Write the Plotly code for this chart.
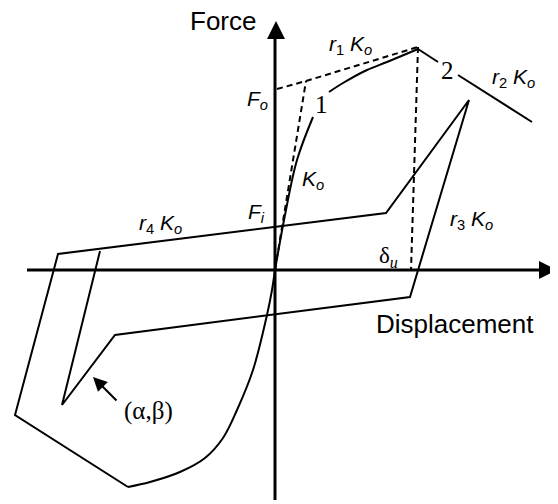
import plotly.graph_objects as go

# diagram coordinates (image pixel space, y grows downwards)
axis_force_x = [275, 275]
axis_force_y = [500, 34]
axis_disp_x = [27, 545]
axis_disp_y = [270, 270]

dash_bilinear_x = [277, 306, 418]
dash_bilinear_y = [89, 81, 47]
dash_ko_x = [275, 306]
dash_ko_y = [270, 81]
dash_du_x = [418, 411]
dash_du_y = [47, 270]

bb_start_x = [275, 285, 297, 313]
bb_start_y = [270, 215, 160, 117]
bb_curve_x = [329, 343, 367, 387, 418]
bb_curve_y = [92, 83, 70, 62, 49]
bb_peak_x = [418, 438]
bb_peak_y = [49, 62]
bb_soft_x = [458, 532]
bb_soft_y = [75, 122]

neg_curve_x = [275, 272, 267, 253, 237, 223, 205, 180, 150, 128]
neg_curve_y = [270, 290, 315, 370, 410, 438, 458, 472, 482, 487]

loop_x = [128, 15, 58, 386, 469, 410, 115, 62, 100]
loop_y = [487, 415, 254, 213, 100, 297, 335, 405, 251]

sans = "Liberation Sans"
serif = "Liberation Serif"

labels = [
    ("Force", 223, 21, 26, sans),
    ("Displacement", 455, 324, 26, sans),
    ("<i>F</i><sub><i>o</i></sub>", 257, 100, 21, sans),
    ("<i>r</i><sub>1</sub> <i>K</i><sub><i>o</i></sub>", 350, 45, 21, sans),
    ("1", 321, 104, 25, serif),
    ("2", 447, 70, 25, serif),
    ("<i>r</i><sub>2</sub> <i>K</i><sub><i>o</i></sub>", 513, 78, 21, sans),
    ("<i>K</i><sub><i>o</i></sub>", 313, 180, 21, sans),
    ("<i>F</i><sub><i>i</i></sub>", 256, 213, 21, sans),
    ("<i>r</i><sub>4</sub> <i>K</i><sub><i>o</i></sub>", 160, 224, 21, sans),
    ("<i>r</i><sub>3</sub> <i>K</i><sub><i>o</i></sub>", 471, 220, 21, sans),
    ("δ<sub><i>u</i></sub>", 388, 257, 23, serif),
    ("(α,β)", 148, 411, 25, serif),
]

fig = go.Figure()

def add_line(x, y, width=2, dash="solid", shape="linear"):
    fig.add_trace(go.Scatter(x=x, y=y, mode="lines",
                             line=dict(color="black", width=width, dash=dash, shape=shape),
                             hoverinfo="skip", showlegend=False))

add_line(axis_force_x, axis_force_y, width=3)
add_line(axis_disp_x, axis_disp_y, width=3)
add_line(dash_bilinear_x, dash_bilinear_y, dash="6px,4px")
add_line(dash_ko_x, dash_ko_y, dash="6px,4px")
add_line(dash_du_x, dash_du_y, dash="6px,4px")
add_line(bb_start_x, bb_start_y, shape="spline")
add_line(bb_curve_x, bb_curve_y, shape="spline")
add_line(bb_peak_x, bb_peak_y)
add_line(bb_soft_x, bb_soft_y)
add_line(neg_curve_x, neg_curve_y, shape="spline")
add_line(loop_x, loop_y)

# arrow heads
fig.add_annotation(x=276, y=21, ax=276, ay=40, xref="x", yref="y", axref="x", ayref="y",
                   showarrow=True, arrowhead=2, arrowsize=1.2, arrowwidth=3, arrowcolor="black", text="")
fig.add_annotation(x=557, y=270, ax=540, ay=270, xref="x", yref="y", axref="x", ayref="y",
                   showarrow=True, arrowhead=2, arrowsize=1.2, arrowwidth=3, arrowcolor="black", text="")
fig.add_annotation(x=93, y=377, ax=118, ay=402, xref="x", yref="y", axref="x", ayref="y",
                   showarrow=True, arrowhead=2, arrowsize=1.4, arrowwidth=2, arrowcolor="black", text="")

for txt, x, y, size, fam in labels:
    fig.add_annotation(x=x, y=y, text=txt, showarrow=False, xanchor="center", yanchor="middle",
                       font=dict(family=fam, size=size, color="black"))

# page body has an 8px margin, so the figure starts at (8, 8)
fig.update_xaxes(range=[8, 558], visible=False)
fig.update_yaxes(range=[504, 8], visible=False)
fig.update_layout(width=550, height=496, margin=dict(l=0, r=0, t=0, b=0),
                  plot_bgcolor="white", paper_bgcolor="white")

fig.write_html("out.html")
